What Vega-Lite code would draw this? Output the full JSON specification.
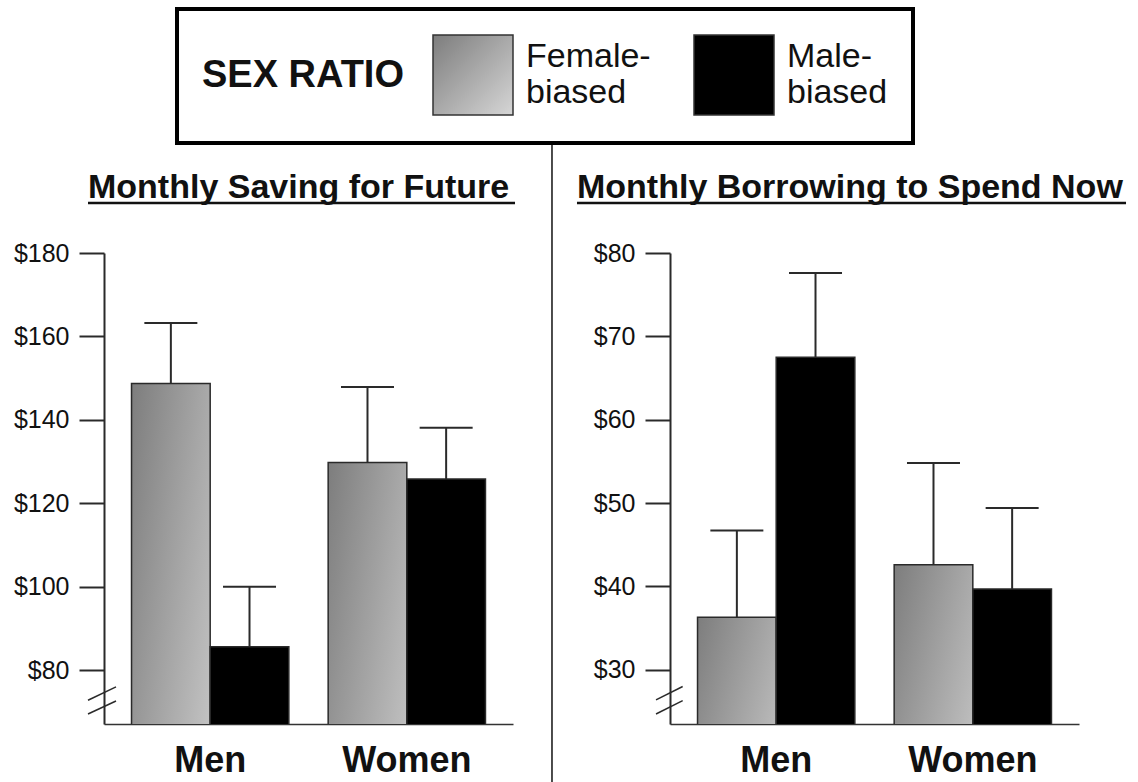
{
  "$schema": "https://vega.github.io/schema/vega-lite/v6.json",
  "background": "white",
  "padding": {"left": 13, "top": 7, "right": 0, "bottom": 0},
  "autosize": {"type": "pad"},
  "datasets": {
    "bars": [
      {"panel": "saving", "sex": "Men", "ratio": "Female-biased", "value": 148.7, "upper": 163.2},
      {"panel": "saving", "sex": "Men", "ratio": "Male-biased", "value": 85.6, "upper": 100.0},
      {"panel": "saving", "sex": "Women", "ratio": "Female-biased", "value": 129.8, "upper": 147.9},
      {"panel": "saving", "sex": "Women", "ratio": "Male-biased", "value": 125.8, "upper": 138.1},
      {"panel": "borrowing", "sex": "Men", "ratio": "Female-biased", "value": 36.3, "upper": 46.7},
      {"panel": "borrowing", "sex": "Men", "ratio": "Male-biased", "value": 67.5, "upper": 77.6},
      {"panel": "borrowing", "sex": "Women", "ratio": "Female-biased", "value": 42.6, "upper": 54.8},
      {"panel": "borrowing", "sex": "Women", "ratio": "Male-biased", "value": 39.7, "upper": 49.4}
    ],
    "one": [{}]
  },
  "config": {
    "view": {"stroke": null},
    "axis": {"grid": false},
    "legend": {
      "orient": "none",
      "legendX": 73,
      "legendY": -244,
      "direction": "horizontal",
      "titleOrient": "left",
      "titleFont": "Liberation Sans",
      "titleFontSize": 38,
      "titleFontWeight": "bold",
      "titleColor": "#111111",
      "titlePadding": 28,
      "titleLimit": 400,
      "titleBaseline": "middle",
      "symbolType": "square",
      "symbolSize": 6400,
      "symbolStrokeColor": "#333333",
      "symbolStrokeWidth": 1.5,
      "symbolOpacity": 1,
      "labelFont": "Liberation Sans",
      "labelFontSize": 34,
      "labelColor": "#111111",
      "labelBaseline": "line-bottom",
      "labelOffset": 12,
      "labelLimit": 300,
      "columnPadding": 40,
      "padding": 25,
      "strokeColor": "#000000",
      "strokeWidth": 4,
      "fillColor": "white"
    }
  },
  "spacing": 34,
  "resolve": {"scale": {"y": "independent", "x": "independent", "color": "shared"}, "legend": {"color": "shared"}},
  "hconcat": [
    {
      "width": 409,
      "height": 471,
      "title": {"text": "Monthly Saving for Future", "anchor": "start", "dx": -16, "offset": -30.25, "frame": "group", "baseline": "alphabetic", "font": "Liberation Sans", "fontSize": 34, "fontWeight": "bold", "color": "#111111"},
      "layer": [
        {
          "data": {"name": "bars"},
          "transform": [{"filter": "datum.panel == 'saving'"}],
          "mark": {"type": "bar", "stroke": "#2a2a2a", "strokeWidth": 1.5, "clip": true},
          "encoding": {
            "x": {"field": "sex", "type": "nominal", "sort": ["Men", "Women"], "scale": {"paddingInner": 0.2, "paddingOuter": 0.14},
              "axis": {"title": null, "ticks": false, "labelAngle": 0, "domainColor": "#333333", "domainWidth": 1.5, "labelFont": "Liberation Sans", "labelFontSize": 36, "labelFontWeight": "bold", "labelColor": "#111111", "labelPadding": 19}},
            "xOffset": {"field": "ratio", "type": "nominal", "sort": ["Female-biased", "Male-biased"]},
            "y": {"field": "value", "type": "quantitative", "scale": {"domain": [67.1, 180], "zero": false, "nice": false},
              "axis": {"title": null, "values": [80, 100, 120, 140, 160, 180], "labelExpr": "'$' + datum.value", "domainColor": "#2a2a2a", "domainWidth": 2, "tickColor": "#2a2a2a", "tickWidth": 2, "tickSize": 25, "labelFont": "Liberation Sans", "labelFontSize": 25, "labelColor": "#111111", "labelPadding": 10}},
            "color": {"field": "ratio", "type": "nominal",
              "scale": {"domain": ["Female-biased", "Male-biased"], "range": [{"expr": "{gradient: 'linear', x1: 0, y1: 0, x2: 1, y2: 1, stops: [{offset: 0, color: '#7d7d7d'}, {offset: 1, color: '#d6d6d6'}]}"}, "#000000"]},
              "legend": {"title": "SEX RATIO", "labelExpr": "[replace(datum.label, 'biased', ''), 'biased']"}}
          }
        },
        {
          "data": {"name": "bars"},
          "transform": [{"filter": "datum.panel == 'saving'"}],
          "mark": {"type": "rule", "color": "#2a2a2a", "strokeWidth": 2},
          "encoding": {
            "x": {"field": "sex", "type": "nominal", "sort": ["Men", "Women"]},
            "xOffset": {"field": "ratio", "type": "nominal", "sort": ["Female-biased", "Male-biased"]},
            "y": {"field": "value", "type": "quantitative"},
            "y2": {"field": "upper"}
          }
        },
        {
          "data": {"name": "bars"},
          "transform": [{"filter": "datum.panel == 'saving'"}],
          "mark": {"type": "tick", "color": "#2a2a2a", "thickness": 2, "size": 53, "opacity": 1},
          "encoding": {
            "x": {"field": "sex", "type": "nominal", "sort": ["Men", "Women"]},
            "xOffset": {"field": "ratio", "type": "nominal", "sort": ["Female-biased", "Male-biased"]},
            "y": {"field": "upper", "type": "quantitative"}
          }
        },
        {
          "data": {"name": "one"},
          "mark": {"type": "rule", "color": "#111111", "strokeWidth": 2.5},
          "encoding": {
            "x": {"datum": "Men", "type": "nominal", "bandPosition": -0.2767},
            "x2": {"datum": "Women", "bandPosition": 1.1878},
            "y": {"datum": 192, "type": "quantitative"}
          }
        },
        {
          "data": {"name": "one"},
          "mark": {"type": "rule", "color": "#2a2a2a", "strokeWidth": 1.5},
          "encoding": {
            "x": {"datum": "Men", "type": "nominal", "bandPosition": -0.2767},
            "x2": {"datum": "Men", "bandPosition": -0.0987},
            "y": {"datum": 72.8, "type": "quantitative"},
            "y2": {"datum": 76.0}
          }
        },
        {
          "data": {"name": "one"},
          "mark": {"type": "rule", "color": "#2a2a2a", "strokeWidth": 1.5},
          "encoding": {
            "x": {"datum": "Men", "type": "nominal", "bandPosition": -0.2767},
            "x2": {"datum": "Men", "bandPosition": -0.0987},
            "y": {"datum": 69.5, "type": "quantitative"},
            "y2": {"datum": 72.6}
          }
        }
      ]
    },
    {
      "width": 409,
      "height": 471,
      "title": {"text": "Monthly Borrowing to Spend Now", "anchor": "start", "dx": -93, "offset": -94.75, "frame": "group", "baseline": "alphabetic", "font": "Liberation Sans", "fontSize": 34, "fontWeight": "bold", "color": "#111111"},
      "layer": [
        {
          "data": {"name": "bars"},
          "transform": [{"filter": "datum.panel == 'borrowing'"}],
          "mark": {"type": "bar", "stroke": "#2a2a2a", "strokeWidth": 1.5, "clip": true},
          "encoding": {
            "x": {"field": "sex", "type": "nominal", "sort": ["Men", "Women"], "scale": {"paddingInner": 0.2, "paddingOuter": 0.14},
              "axis": {"title": null, "ticks": false, "labelAngle": 0, "domainColor": "#333333", "domainWidth": 1.5, "labelFont": "Liberation Sans", "labelFontSize": 36, "labelFontWeight": "bold", "labelColor": "#111111", "labelPadding": 19}},
            "xOffset": {"field": "ratio", "type": "nominal", "sort": ["Female-biased", "Male-biased"]},
            "y": {"field": "value", "type": "quantitative", "scale": {"domain": [23.5, 80], "zero": false, "nice": false},
              "axis": {"title": null, "values": [30, 40, 50, 60, 70, 80], "labelExpr": "'$' + datum.value", "domainColor": "#2a2a2a", "domainWidth": 2, "tickColor": "#2a2a2a", "tickWidth": 2, "tickSize": 25, "labelFont": "Liberation Sans", "labelFontSize": 25, "labelColor": "#111111", "labelPadding": 10}},
            "color": {"field": "ratio", "type": "nominal",
              "scale": {"domain": ["Female-biased", "Male-biased"], "range": [{"expr": "{gradient: 'linear', x1: 0, y1: 0, x2: 1, y2: 1, stops: [{offset: 0, color: '#7d7d7d'}, {offset: 1, color: '#d6d6d6'}]}"}, "#000000"]},
              "legend": {"title": "SEX RATIO", "labelExpr": "[replace(datum.label, 'biased', ''), 'biased']"}}
          }
        },
        {
          "data": {"name": "bars"},
          "transform": [{"filter": "datum.panel == 'borrowing'"}],
          "mark": {"type": "rule", "color": "#2a2a2a", "strokeWidth": 2},
          "encoding": {
            "x": {"field": "sex", "type": "nominal", "sort": ["Men", "Women"]},
            "xOffset": {"field": "ratio", "type": "nominal", "sort": ["Female-biased", "Male-biased"]},
            "y": {"field": "value", "type": "quantitative"},
            "y2": {"field": "upper"}
          }
        },
        {
          "data": {"name": "bars"},
          "transform": [{"filter": "datum.panel == 'borrowing'"}],
          "mark": {"type": "tick", "color": "#2a2a2a", "thickness": 2, "size": 53, "opacity": 1},
          "encoding": {
            "x": {"field": "sex", "type": "nominal", "sort": ["Men", "Women"]},
            "xOffset": {"field": "ratio", "type": "nominal", "sort": ["Female-biased", "Male-biased"]},
            "y": {"field": "upper", "type": "quantitative"}
          }
        },
        {
          "data": {"name": "one"},
          "mark": {"type": "rule", "color": "#111111", "strokeWidth": 2.5},
          "encoding": {
            "x": {"datum": "Men", "type": "nominal", "bandPosition": -0.7663},
            "x2": {"datum": "Women", "bandPosition": 1.4739},
            "y": {"datum": 86.0, "type": "quantitative"}
          }
        },
        {
          "data": {"name": "one"},
          "mark": {"type": "rule", "color": "#111111", "strokeWidth": 1.5},
          "encoding": {
            "x": {"datum": "Men", "type": "nominal", "bandPosition": -0.9252},
            "y": {"datum": 93.8, "type": "quantitative"},
            "y2": {"datum": 16.54}
          }
        },
        {
          "data": {"name": "one"},
          "mark": {"type": "rule", "color": "#2a2a2a", "strokeWidth": 1.5},
          "encoding": {
            "x": {"datum": "Men", "type": "nominal", "bandPosition": -0.264},
            "x2": {"datum": "Men", "bandPosition": -0.0943},
            "y": {"datum": 26.4, "type": "quantitative"},
            "y2": {"datum": 28.0}
          }
        },
        {
          "data": {"name": "one"},
          "mark": {"type": "rule", "color": "#2a2a2a", "strokeWidth": 1.5},
          "encoding": {
            "x": {"datum": "Men", "type": "nominal", "bandPosition": -0.264},
            "x2": {"datum": "Men", "bandPosition": -0.0943},
            "y": {"datum": 24.7, "type": "quantitative"},
            "y2": {"datum": 26.3}
          }
        }
      ]
    }
  ]
}
